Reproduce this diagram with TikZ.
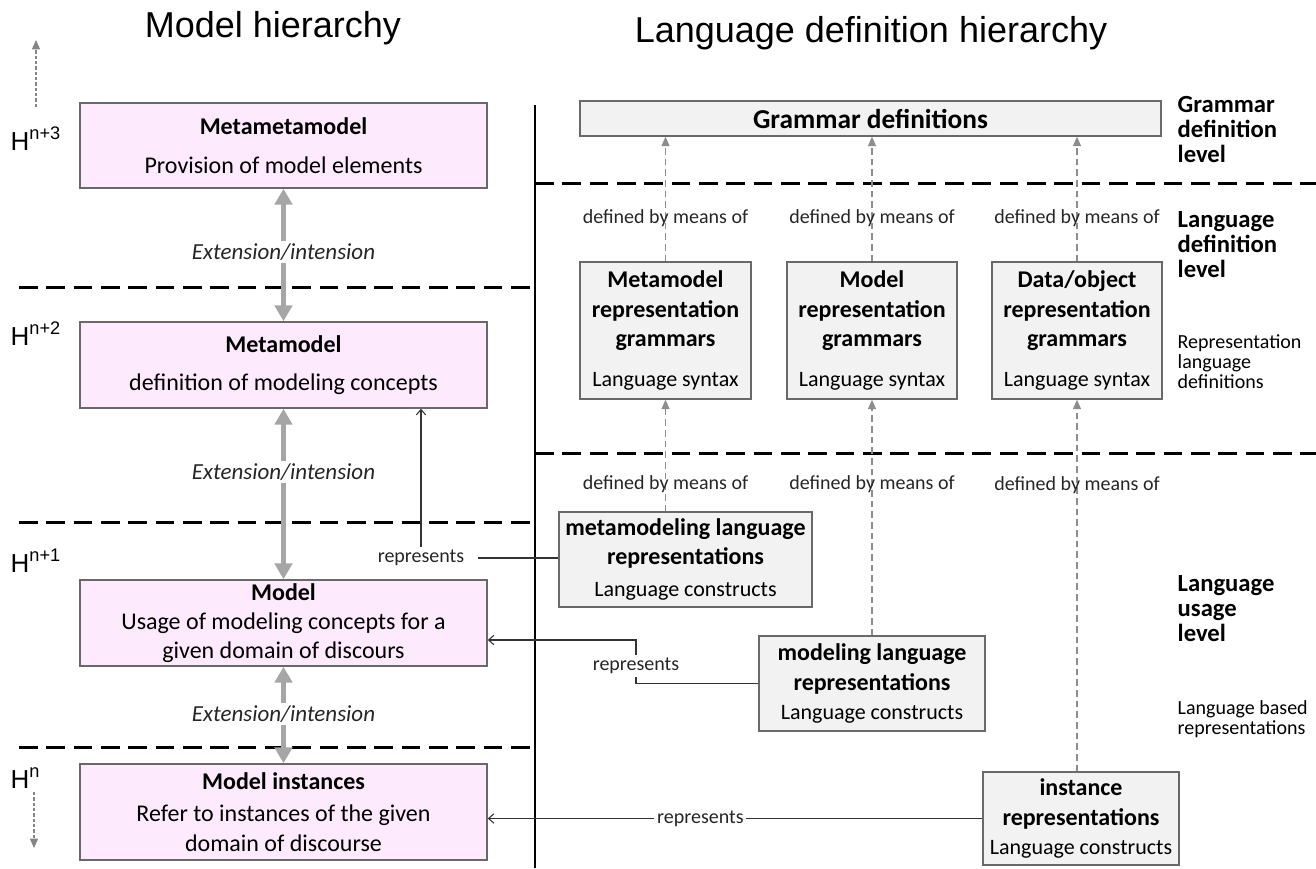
\documentclass[tikz,border=0pt]{standalone}
\usepackage{fontspec}
\setmainfont{Carlito}
\newfontfamily\arialfont{Liberation Sans}
\usepackage{tikz}
\usetikzlibrary{calc}
\usetikzlibrary{arrows.meta}
\tikzstyle{every node}=[line width=1pt]
\tikzset{>={Straight Barb[width=7pt,length=4pt]}}
\definecolor{modelpink}{RGB}{253,234,253}
\definecolor{boxgray}{RGB}{242,242,242}
\definecolor{framegray}{RGB}{105,105,105}
\definecolor{arrowgray}{RGB}{166,166,166}
\newcommand{\subtxt}[1]{{\mdseries\fontsize{16.5}{20}\selectfont #1}}

\begin{document}
\begin{tikzpicture}[x=0.75pt,y=-0.75pt]
      \useasboundingbox (0,0) rectangle (1316,868);
      %%%%%%%%%%%%%%%%%%%%%%%%%%%%%%%%%%%%%%%%%%%%%%%%%%
      %% model hierarchy
      %%%%%%%%%%%%%%%%%%%%%%%%%%%%%%%%%%%%%%%%%%%%%%%%%%
      \tikzstyle{titlenode} = [font=\arialfont\fontsize{27}{29}\selectfont, inner sep=0pt]
      \tikzstyle{hnode} = [font=\arialfont\fontsize{19.5}{20}\selectfont, inner sep=0pt, anchor=base west]
      \tikzstyle{mnode} = [draw=framegray, fill=modelpink, line width=1.1pt, rectangle, minimum width=305.25pt, inner sep=0pt, align=center, font=\fontsize{18}{22}\selectfont]
      \tikzstyle{extnode} = [font=\itshape\fontsize{17.25}{18}\selectfont, text=black!85, fill=white, inner sep=2pt]
      \tikzstyle{extarrow} = [arrowgray, line width=3.75pt, {Triangle[width=13pt,length=12pt]}-{Triangle[width=13pt,length=12pt]}]
      \tikzstyle{hierarrow} = [arrowgray!80!black, line width=0.9pt, dash pattern=on 2.5pt off 1.5pt, -{Triangle[width=6pt,length=7pt]}]
      \tikzstyle{levelline} = [black, line width=2.25pt, dash pattern=on 14pt off 6.5pt]
      \node[titlenode] (title1) at (273,28) {Model hierarchy};
      \node[titlenode] (title2) at (871,33) {Language definition hierarchy};

      \node[mnode, minimum height=63.75pt] (m01) at (283.5,145.5) {\textbf{Metametamodel}\\[6.75pt]Provision of model elements};
      \node[mnode, minimum height=64.5pt] (m02) at (283.5,365) {\textbf{Metamodel}\\[6.75pt]definition of modeling concepts};
      \node[mnode, minimum height=64.5pt] (m03) at (283.5,623) {\textbf{Model}\\Usage of modeling concepts for a\\given domain of discours};
      \node[mnode, minimum height=72pt] (m04) at (283.5,812) {\textbf{Model instances}\\[2pt]Refer to instances of the given\\domain of discourse};

      \node[hnode] (h03) at (10,150) {H\textsuperscript{n+3}};
      \node[hnode] (h02) at (10,345) {H\textsuperscript{n+2}};
      \node[hnode] (h01) at (10,572) {H\textsuperscript{n+1}};
      \node[hnode] (h00) at (10,788) {H\textsuperscript{n}};
      \coordinate (upstart) at (36,107);
      \coordinate (uptip) at (36,40);
      \coordinate (downstart) at (34,792);
      \coordinate (downtip) at (34,848);
      \draw[hierarrow] (upstart) -- (uptip);
      \draw[hierarrow] (downstart) -- (downtip);

      % levels
      \draw[levelline] (19,287) -- (535,287);
      \draw[levelline] (19,522) -- (535,522);
      \draw[levelline] (19,747) -- (535,747);
      \draw[levelline] (535,183) -- (1316,183);
      \draw[levelline] (535,453) -- (1316,453);
      \draw[line width=1.5pt] (535,105) -- (535,868);

      \draw[extarrow] (m01.south) -- (m02.north) node[extnode, pos=0.48] {Extension/intension};
      \draw[extarrow] (m02.south) -- (m03.north) node[extnode, pos=0.372] {Extension/intension};
      \draw[extarrow] (m03.south) -- (m04.north) node[extnode, pos=0.49] {Extension/intension};

      %%%%%%%%%%%%%%%%%%%%%%%%%%%%%%%%%%%%%%%%%%%%%%%%%%
      %% language definition hierarchy
      %%%%%%%%%%%%%%%%%%%%%%%%%%%%%%%%%%%%%%%%%%%%%%%%%%
      \tikzstyle{gnode} = [draw=framegray, fill=boxgray, line width=1.1pt, rectangle, inner sep=0pt, align=center, font=\bfseries\fontsize{18}{22}\selectfont]
      \tikzstyle{defnode} = [font=\fontsize{15}{16}\selectfont, text=black!85, inner sep=1pt]
      \tikzstyle{defarrow} = [arrowgray!85!black, line width=0.8pt, dash pattern=on 5pt off 3pt, -{Triangle[width=6pt,length=7pt]}]
      \tikzstyle{repnode} = [font=\fontsize{15}{16}\selectfont, text=black!85, inner sep=2pt]
      \tikzstyle{repline} = [black!80, line width=0.8pt]
      \tikzstyle{levnode} = [font=\bfseries\fontsize{18.5}{18.75}\selectfont, align=left, anchor=west, inner sep=0pt]
      \tikzstyle{notenode} = [font=\fontsize{15}{15}\selectfont, align=left, anchor=west, inner sep=0pt]

      \node[gnode, minimum width=435.75pt, minimum height=26.25pt, font=\bfseries\fontsize{20.5}{22}\selectfont] (g00) at (870.5,118.5) {Grammar definitions};
      \node[gnode, minimum width=128.25pt, minimum height=102.75pt] (g01) at (665.5,330.5) {Metamodel\\representation\\grammars\\[8pt]\subtxt{Language syntax}};
      \node[gnode, minimum width=127.5pt, minimum height=102.75pt] (g02) at (872,330.5) {Model\\representation\\grammars\\[8pt]\subtxt{Language syntax}};
      \node[gnode, minimum width=127.5pt, minimum height=102.75pt] (g03) at (1077,330.5) {Data/object\\representation\\grammars\\[8pt]\subtxt{Language syntax}};

      \node[gnode, minimum width=189.75pt, minimum height=71.25pt] (l01) at (685.5,559.5) {metamodeling language\\representations\\[2pt]\subtxt{Language constructs}};
      \node[gnode, minimum width=169.5pt, minimum height=71.25pt] (l02) at (872,683.5) {modeling language\\representations\\\subtxt{Language constructs}};
      \node[gnode, minimum width=147pt, minimum height=69.75pt] (l03) at (1081,818.5) {instance\\representations\\\subtxt{Language constructs}};

      \draw[defarrow] (g01.north) -- (g01.north |- g00.south) node[defnode, pos=0.35] {defined by means of};
      \draw[defarrow] (g02.north) -- (g02.north |- g00.south) node[defnode, pos=0.35] {defined by means of};
      \draw[defarrow] (g03.north) -- (g03.north |- g00.south) node[defnode, pos=0.35] {defined by means of};
      \draw[defarrow] (l01.north -| g01.south) -- (g01.south) node[defnode, pos=0.24] {defined by means of};
      \draw[defarrow] (l02.north -| g02.south) -- (g02.south) node[defnode, pos=0.64] {defined by means of};
      \draw[defarrow] (l03.north -| g03.south) -- (g03.south) node[defnode, pos=0.77] {defined by means of};

      % represents
      \node[repnode] (rep1) at (421,558) {represents};
      \node[repnode] (rep2) at (636,666) {represents};
      \draw[repline] ([xshift=8pt]rep1.east) -- (rep1.east -| l01.west);
      \draw[repline, ->] (rep1.north) -- (rep1.north |- m02.south);
      \draw[repline] (l02.west) -| (rep2.south);
      \draw[repline, ->] (rep2.north) |- ([yshift=-12.75pt]m03.east);
      \draw[repline, ->] (l03.west) -- (l03.west -| m04.east) node[repnode, fill=white, pos=0.57] (rep3) {represents};

      \node[levnode] (t01) at (1177,129) {Grammar\\definition\\level};
      \node[levnode] (t02) at (1177,245) {Language\\definition\\level};
      \node[notenode] (t03) at (1177,362) {Representation\\language\\definitions};
      \node[levnode] (t04) at (1177,609) {Language\\usage\\level};
      \node[notenode] (t05) at (1177,719) {Language based\\representations};
\end{tikzpicture}
\end{document}
